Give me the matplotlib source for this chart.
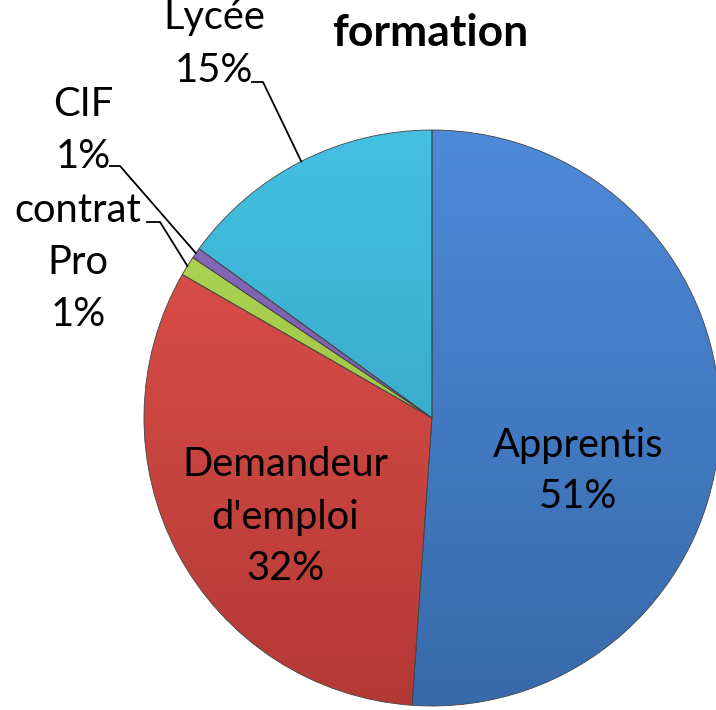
import numpy as np
import matplotlib
matplotlib.use('Agg')
import matplotlib.pyplot as plt
from matplotlib.colors import LinearSegmentedColormap

# data
categories = ['Apprentis', "Demandeur\nd'emploi", 'contrat\nPro', 'CIF', 'Lycée']
shares = [51.1, 32.2, 1.1, 0.6, 15.0]
title = 'formation'

# (top colour, bottom colour) for each slice
colors_top = ['#4d8ad8', '#e3534e', '#b3d957', '#8a6cbf', '#44c0e2']
colors_bottom = ['#386aab', '#b43935', '#8fb53a', '#6b4f9a', '#3299b8']

plt.rcParams['font.family'] = ['Lato', 'DejaVu Sans']

W, H = 716, 710
fig = plt.figure(figsize=(W / 100, H / 100), dpi=100)
cx, cy, r = 432, 418, 288
ax = fig.add_axes([(cx - r) / W, (H - cy - r) / H, 2 * r / W, 2 * r / H])

wedges, _ = ax.pie(shares, startangle=90, counterclock=False, radius=1,
                   wedgeprops=dict(linewidth=0.6, edgecolor='#444444'))

grad = np.linspace(0, 1, 256).reshape(-1, 1)
for w, c0, c1 in zip(wedges, colors_top, colors_bottom):
    cmap = LinearSegmentedColormap.from_list('g', [c1, c0])
    im = ax.imshow(grad, extent=(-1, 1, -1, 1), origin='lower', cmap=cmap,
                   aspect='auto', zorder=1, interpolation='bilinear')
    im.set_clip_path(w)
    w.set_facecolor('none')
    w.set_zorder(2)

ax.set_xlim(-1, 1)
ax.set_ylim(-1, 1)
ax.set_aspect('equal')
ax.axis('off')


def to_data(px, py):
    return (px - cx) / r, (cy - py) / r


def pct(v):
    return f'{int(v + 0.5)}%'


fs = 28.7
ls = 1.5
# labels inside big slices
x, y = to_data(578, 471)
ax.text(x, y, f'{categories[0]}\n{pct(shares[0])}', ha='center', va='center',
        fontsize=fs, linespacing=ls)
x, y = to_data(285, 517)
ax.text(x, y, f'{categories[1]}\n{pct(shares[1])}', ha='center', va='center',
        fontsize=fs, linespacing=ls)

# outside labels with leader lines: (text pos, elbow start, elbow end)
outside = {
    4: ((214, 44), (252, 82), (263, 82)),
    3: ((83, 130), (110, 166), (120, 166)),
    2: ((78, 262), (147, 222), (160, 222)),
}
for i, (tpos, e0, e1) in outside.items():
    x, y = to_data(*tpos)
    ax.text(x, y, f'{categories[i]}\n{pct(shares[i])}', ha='center', va='center',
            fontsize=fs, linespacing=ls, clip_on=False)
    w = wedges[i]
    mid = np.deg2rad((w.theta1 + w.theta2) / 2)
    px, py = np.cos(mid), np.sin(mid)
    a0, b0 = to_data(*e0)
    a1, b1 = to_data(*e1)
    ax.plot([a0, a1, px], [b0, b1, py], color='black', lw=1.3,
            clip_on=False, zorder=3)

fig.text(430 / W, 1 - 33 / H, title, ha='center', va='center',
         fontsize=32, fontweight='bold')

fig.savefig('out.png', dpi=100, facecolor='white')
